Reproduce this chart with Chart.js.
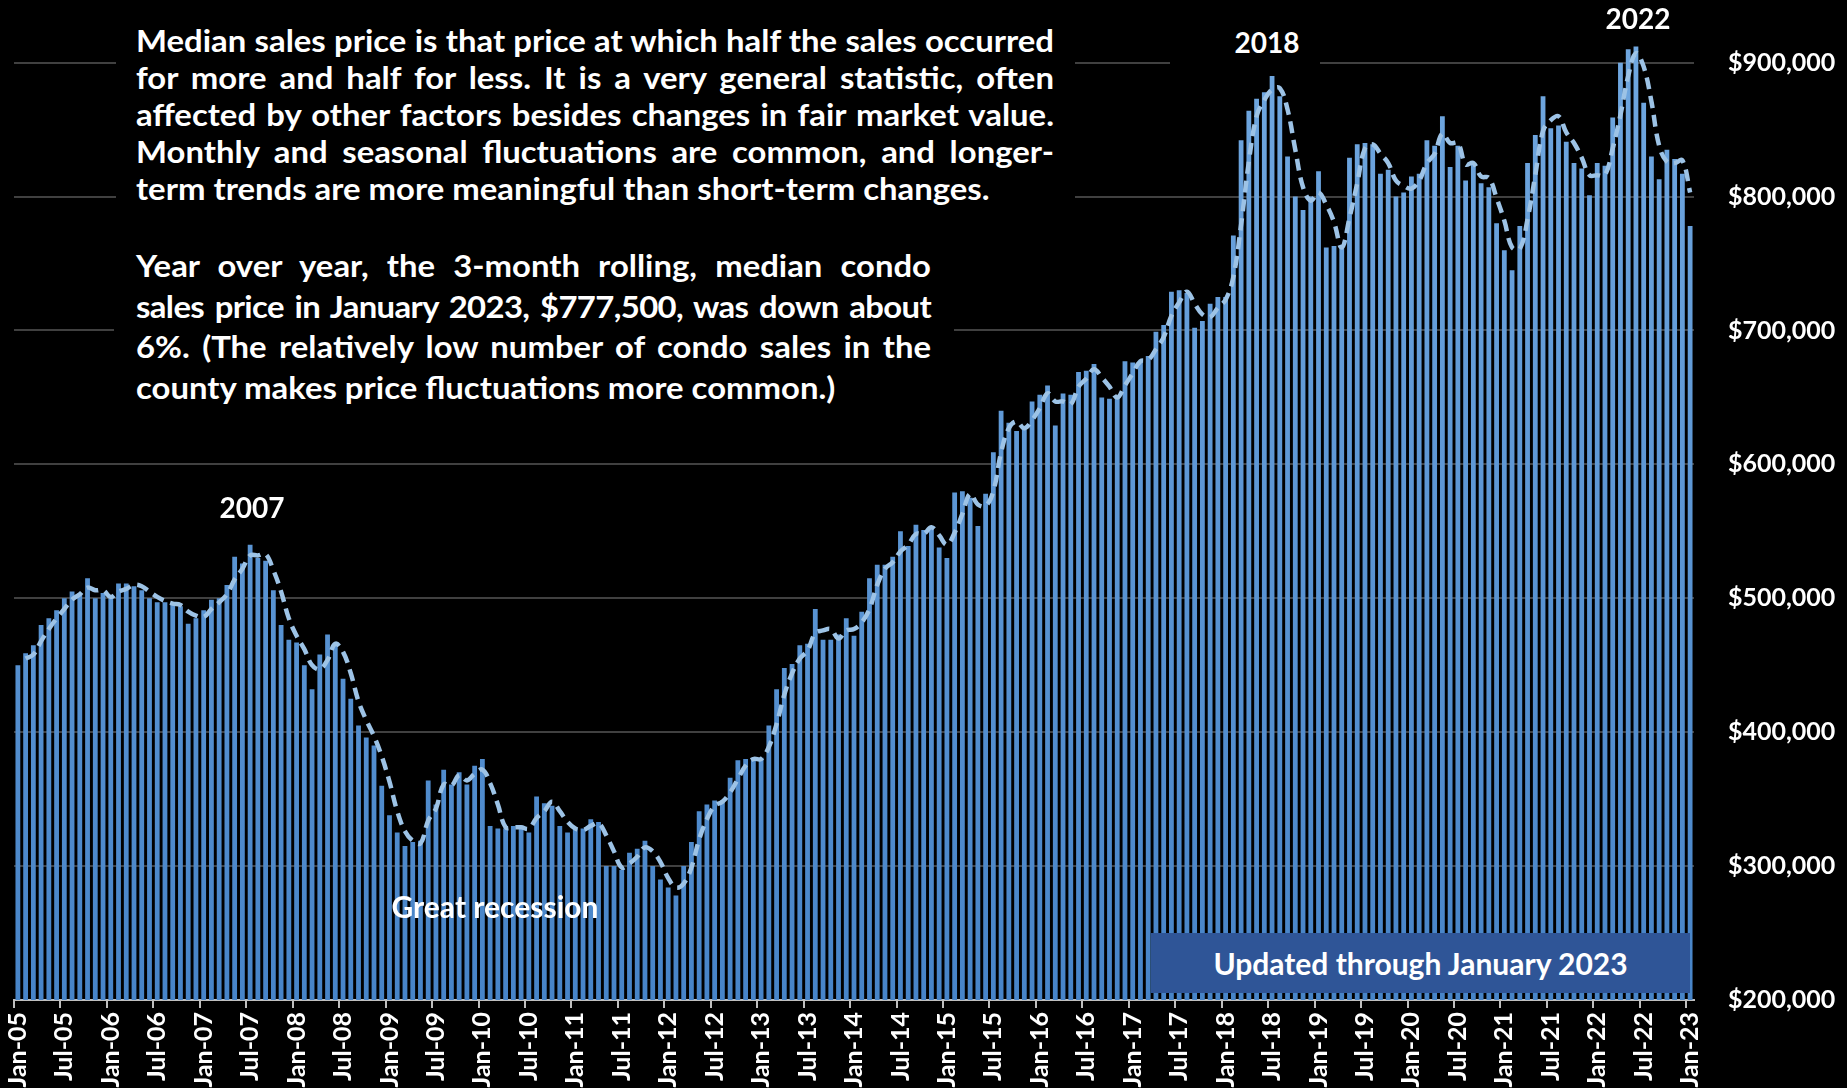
<!DOCTYPE html>
<html>
<head>
<meta charset="utf-8">
<script src="https://cdn.jsdelivr.net/npm/chart.js@4.4.0/dist/chart.umd.min.js"></script>
<style>
html,body{margin:0;padding:0;background:#000;overflow:hidden;}
#wrap{position:relative;width:1847px;height:1088px;background:#000;}
#c{position:absolute;left:0;top:0;}
.txt{position:absolute;color:#fff;font-family:Lato,"Open Sans",sans-serif;font-weight:700;white-space:nowrap;}
.box{position:absolute;background:#000;}
.para{position:absolute;color:#fff;font-family:Lato,"Open Sans",sans-serif;font-weight:700;transform:scaleX(1.06);transform-origin:0 0;font-size:31px;}
.para div{text-align:justify;text-align-last:justify;white-space:nowrap;}
.para div.last{text-align-last:left;}
</style>
</head>
<body>
<div id="wrap">
<canvas id="c" width="1847" height="1088"></canvas>

<div class="box" style="left:116px;top:0;width:959px;height:214px;">
  <div class="para" style="left:20px;top:22px;width:866px;line-height:37px;">
    <div>Median sales price is that price at which half the sales occurred</div>
    <div>for more and half for less. It is a very general statistic, often</div>
    <div>affected by other factors besides changes in fair market value.</div>
    <div>Monthly and seasonal fluctuations are common, and longer-</div>
    <div class="last">term trends are more meaningful than short-term changes.</div>
  </div>
</div>

<div class="box" style="left:114px;top:236px;width:840px;height:180px;">
  <div class="para" style="left:22px;top:9px;width:750px;line-height:40.5px;">
    <div>Year over year, the 3-month rolling, median condo</div>
    <div style="letter-spacing:-0.6px;">sales price in January 2023, $777,500, was down about</div>
    <div>6%. (The relatively low number of condo sales in the</div>
    <div class="last">county makes price fluctuations more common.)</div>
  </div>
</div>

<div class="txt" style="left:1170px;top:19px;padding-left:44px;width:106px;height:47px;line-height:47px;text-align:center;font-size:28px;background:#000;">2018</div>
<div class="txt" style="left:1588px;top:1px;width:100px;height:34px;line-height:34px;text-align:center;font-size:28px;">2022</div>
<div class="txt" style="left:202px;top:490px;width:100px;height:34px;line-height:34px;text-align:center;font-size:28px;">2007</div>
<div class="txt" style="left:345px;top:889px;width:300px;height:34px;line-height:34px;text-align:center;font-size:30px;">Great recession</div>
<div class="txt" style="left:1151px;top:933px;width:539px;height:60px;line-height:60px;text-align:center;font-size:30px;background:#2F5597;">Updated through January 2023</div>
</div>

<script>
// ---- categories (monthly, Jan-05 .. Jan-23) ----
const monthNames = ['Jan','Feb','Mar','Apr','May','Jun','Jul','Aug','Sep','Oct','Nov','Dec'];
const firstYear = 2005;
const lastYear = 2023;
const categories = [];
for (let y = firstYear; y <= lastYear; y++) {
  for (let m = 0; m < 12; m++) {
    if (y === lastYear && m > 0) break;
    categories.push(monthNames[m] + '-' + String(y).slice(2));
  }
}

// ---- monthly median condo sales price (bars) ----
const medianPrice = [
  450000,459000,465000,480000,485000,491000,500000,505000,504000,515000,500000,504000,
  500000,511000,511000,509000,506000,500000,497000,497000,495000,494000,481000,485000,
  491000,499000,500000,510000,531000,526000,540000,530000,528000,506000,480000,469000,
  467000,450000,432000,458000,473000,466000,440000,425000,405000,396000,390000,360000,
  338000,325000,315000,318000,319000,364000,346000,372000,361000,370000,361000,375000,
  380000,330000,328000,328000,330000,330000,325000,352000,347000,345000,330000,325000,
  328000,328000,335000,333000,300000,300000,297000,310000,313000,319000,300000,290000,
  284000,278000,300000,318000,341000,346000,349000,349000,366000,379000,380000,380000,
  381000,405000,432000,448000,451000,465000,466000,492000,469000,469000,473000,485000,
  472000,490000,515000,525000,525000,531000,550000,539000,555000,551000,553000,538000,
  530000,579000,580000,575000,554000,578000,609000,640000,631000,625000,626000,647000,
  652000,659000,629000,653000,652000,669000,670000,675000,650000,649000,650000,677000,
  676000,677000,681000,699000,704000,729000,730000,728000,702000,707000,720000,725000,
  725000,771000,842000,864000,873000,878000,890000,875000,830000,800000,790000,800000,
  819000,762000,763000,761000,829000,839000,840000,839000,817000,820000,800000,803000,
  815000,817000,842000,838000,860000,822000,838000,812000,824000,810000,807000,780000,
  760000,745000,778000,825000,846000,875000,851000,853000,841000,825000,821000,801000,
  825000,823000,859000,900000,910000,912000,870000,830000,813000,835000,828000,817000,
  778000
];

// ---- 3-month rolling median (dashed line) ----
const rollingMedian = [
  null,455000,458000,468000,477000,485000,492000,499000,503000,508000,506000,506000,
  501000,505000,507000,510000,509000,505000,501000,498000,496000,495000,490000,487000,
  486000,492000,497000,503000,514000,522000,532000,532000,533000,521000,505000,485000,
  472000,462000,450000,447000,454000,466000,460000,444000,423000,409000,397000,382000,
  363000,341000,326000,319000,317000,334000,343000,361000,360000,368000,364000,369000,
  372000,362000,346000,329000,329000,329000,328000,336000,341000,348000,341000,333000,
  328000,327000,330000,332000,323000,311000,299000,302000,307000,314000,311000,303000,
  291000,284000,287000,299000,320000,335000,345000,348000,355000,365000,375000,380000,
  380000,389000,406000,428000,444000,455000,461000,474000,476000,477000,470000,476000,
  477000,482000,492000,510000,522000,527000,535000,540000,548000,548000,553000,547000,
  540000,549000,563000,578000,570000,569000,580000,609000,627000,632000,627000,633000,
  642000,653000,647000,647000,645000,658000,664000,671000,665000,658000,650000,659000,
  668000,677000,678000,686000,695000,711000,721000,729000,720000,712000,710000,717000,
  723000,740000,779000,826000,860000,872000,880000,881000,865000,835000,807000,797000,
  803000,794000,781000,762000,784000,810000,836000,839000,832000,825000,812000,808000,
  806000,812000,825000,832000,847000,840000,840000,824000,825000,815000,814000,799000,
  782000,762000,761000,783000,816000,849000,857000,860000,848000,840000,829000,816000,
  816000,816000,836000,861000,890000,907000,897000,871000,838000,826000,825000,827000,
  803000
];

// ---- y-axis tick values ----
const yTicks = [200000,300000,400000,500000,600000,700000,800000,900000];

let barGrad = null;
function barGradient(context) {
  const chart = context.chart;
  const area = chart.chartArea;
  if (!area) return '#5B9BD5';
  if (!barGrad) {
    barGrad = chart.ctx.createLinearGradient(0, area.bottom, 0, area.top);
    barGrad.addColorStop(0, '#4784C8');
    barGrad.addColorStop(1, '#72A9E1');
  }
  return barGrad;
}

Chart.defaults.font.family = 'Lato, "Open Sans", sans-serif';

new Chart(document.getElementById('c').getContext('2d'), {
  data: {
    labels: categories,
    datasets: [
      {
        type: 'line',
        data: rollingMedian,
        borderColor: '#9DC3E6',
        borderWidth: 4.5,
        borderDash: [12, 7],
        pointRadius: 0,
        tension: 0.4,
        fill: false,
        order: 0
      },
      {
        type: 'bar',
        data: medianPrice,
        backgroundColor: barGradient,
        barPercentage: 0.62,
        categoryPercentage: 1,
        order: 1
      }
    ]
  },
  options: {
    responsive: false,
    animation: false,
    devicePixelRatio: 1,
    layout: { padding: { left: 14, top: 0, right: 0, bottom: 0 } },
    plugins: { legend: { display: false }, tooltip: { enabled: false } },
    scales: {
      x: {
        offset: true,
        grid: {
          display: true,
          drawOnChartArea: false,
          drawTicks: true,
          tickLength: 8,
          lineWidth: 2,
          offset: true,
          color: (c) => (c.index % 6 === 0 ? '#BFBFBF' : 'rgba(0,0,0,0)')
        },
        border: { display: true, color: '#BFBFBF', width: 2 },
        ticks: {
          autoSkip: false,
          maxRotation: 90,
          minRotation: 90,
          padding: 4,
          color: '#ffffff',
          font: { size: 25, weight: 'bold' },
          callback: (v, i) => (i % 6 === 0 ? categories[i] : '')
        },
        afterFit: (s) => { s.height = 88; s.paddingLeft = 0; s.paddingRight = 0; }
      },
      y: {
        position: 'right',
        min: 200000,
        max: 946800,
        afterBuildTicks: (s) => { s.ticks = yTicks.map(v => ({ value: v })); },
        grid: { color: '#404040', lineWidth: 2, drawTicks: false },
        border: { display: false },
        ticks: {
          color: '#ffffff',
          padding: 34,
          font: { size: 25, weight: 'bold' },
          callback: (v) => '$' + Number(v).toLocaleString('en-US')
        },
        afterFit: (s) => { s.width = 153; s.paddingTop = 0; s.paddingBottom = 0; }
      }
    }
  }
});
</script>
</body>
</html>
